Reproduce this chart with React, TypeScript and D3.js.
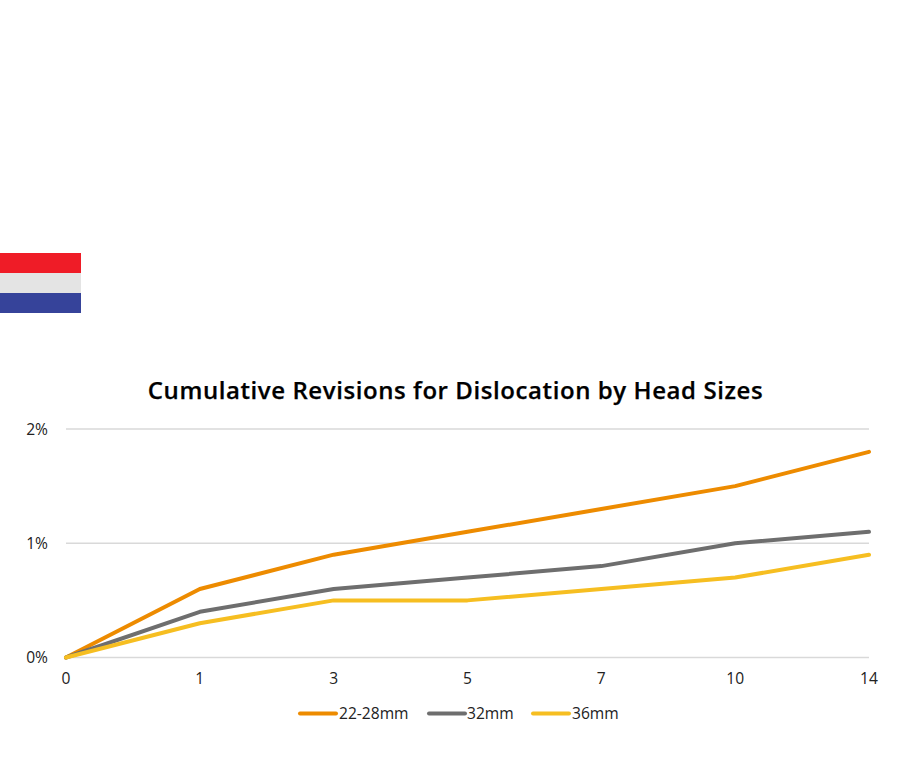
import React from "react";
import * as d3 from "d3";

const years = ["0", "1", "3", "5", "7", "10", "14"];
const s2228 = [0, 0.6, 0.9, 1.1, 1.3, 1.5, 1.8];
const s32 = [0, 0.4, 0.6, 0.7, 0.8, 1.0, 1.1];
const s36 = [0, 0.3, 0.5, 0.5, 0.6, 0.7, 0.9];
const names = ["22-28mm", "32mm", "36mm"];
const colors = ["#ED8B00", "#6E6E6E", "#F6BE21"];
const yTicks = [0, 1, 2];
const flagColors = ["#EF1C27", "#E4E4E4", "#36439A"];
const font = "'Open Sans', 'Noto Sans', sans-serif";

export default function App() {
  const x = d3.scalePoint<string>().domain(years).range([66, 869]);
  const y = d3.scaleLinear().domain([0, 2]).range([657.5, 429]);
  const line = d3.line<number>().x((_, i) => x(years[i])!).y((d) => y(d));
  const series = [s2228, s32, s36];
  const legendX = [300, 429, 533];
  const legendText = [339, 467, 572];
  return (
    <svg width={905} height={768} style={{ position: "absolute", left: 0, top: 0, background: "#fff" }} fontFamily={font}>
      {flagColors.map((c, i) => (
        <rect key={c} x={0} y={253 + i * 20} width={81} height={20} fill={c} />
      ))}
      <text x={455.5} y={398.5} textAnchor="middle" fontSize={24} fontWeight={600} letterSpacing={0.58} fill="#000" stroke="#000" strokeWidth={0.25}>
        Cumulative Revisions for Dislocation by Head Sizes
      </text>
      {yTicks.map((t) => (
        <g key={t}>
          <line x1={66} x2={869} y1={y(t)} y2={y(t)} stroke="#D9D9D9" strokeWidth={1.3} />
          <text x={48} y={y(t) + 5.5} textAnchor="end" fontSize={15.6} fill="#222">{t}%</text>
        </g>
      ))}
      {years.map((t) => (
        <text key={t} x={x(t)} y={683.5} textAnchor="middle" fontSize={15.6} fill="#222">{t}</text>
      ))}
      {series.map((s, i) => (
        <path key={names[i]} d={line(s)!} fill="none" stroke={colors[i]} strokeWidth={4} strokeLinejoin="round" strokeLinecap="round" />
      ))}
      {names.map((n, i) => (
        <g key={n}>
          <line x1={legendX[i]} x2={legendX[i] + 36} y1={713.5} y2={713.5} stroke={colors[i]} strokeWidth={4} strokeLinecap="round" />
          <text x={legendText[i]} y={719} fontSize={15.6} fill="#222">{n}</text>
        </g>
      ))}
    </svg>
  );
}
